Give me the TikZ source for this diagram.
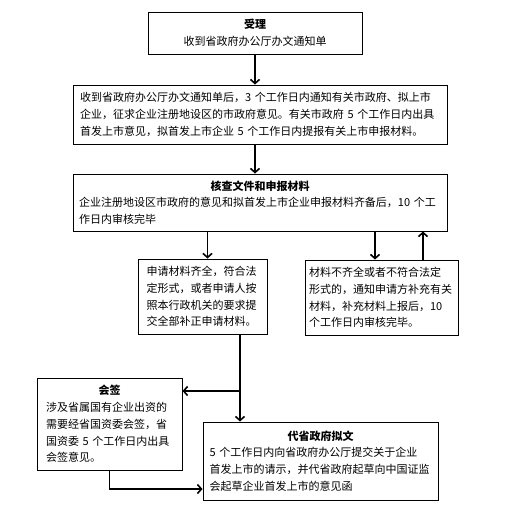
\documentclass[tikz,border=0pt]{standalone}
\usepackage{fontspec}
\usepackage{tikz}
\usetikzlibrary{arrows.meta}
\newfontfamily\cjk{Noto Sans CJK SC}
\newcommand{\boxtitle}[1]{\makebox[\hsize]{\bfseries #1}}
\tikzset{
  stepbox/.style={draw,line width=1pt,inner ysep=0pt,align=left,
    font=\cjk\fontsize{11}{16.8}\selectfont},
}

\begin{document}
\begin{tikzpicture}[x=1pt,y=-1pt,line width=1.6pt,-{Straight Barb[length=4pt,width=9pt]}]
\useasboundingbox (0,0) rectangle (506,517);

\node[stepbox,align=center,minimum width=214pt,minimum height=42pt] (shouli) at (255,33) {{\bfseries 受理}\\收到省政府办公厅办文通知单};
\node[stepbox,text width=360pt,minimum width=374pt,minimum height=59pt] (tongzhi) at (260,114.5) {收到省政府办公厅办文通知单后，3~个工作日内通知有关市政府、拟上市\\企业，征求企业注册地设区的市政府意见。有关市政府~5~个工作日内出具\\首发上市意见，拟首发上市企业~5~个工作日内提报有关上市申报材料。};
\node[stepbox,text width=362pt,minimum width=374pt,minimum height=57pt] (hecha) at (260,202.5) {\boxtitle{核查文件和申报材料}\\企业注册地设区市政府的意见和拟首发上市企业申报材料齐备后，10~个工\\作日内审核完毕};
\node[stepbox,text width=112pt,minimum width=129pt,minimum height=75pt] (qiquan) at (202.5,296.5) {申请材料齐全，符合法\\定形式，或者申请人按\\照本行政机关的要求提\\交全部补正申请材料。};
\node[stepbox,text width=145pt,minimum width=153pt,minimum height=75pt] (buqi) at (381.5,297.5) {材料不齐全或者不符合法定\\形式的，通知申请方补充有关\\材料，补充材料上报后，10\\个工作日内审核完毕。};
\node[stepbox,text width=127pt,minimum width=145pt,minimum height=92pt] (huiqian) at (109.5,424) {\boxtitle{会签}\\涉及省属国有企业出资的\\需要经省国资委会签，省\\国资委~5~个工作日内出具\\会签意见。};
\node[stepbox,text width=222pt,minimum width=235pt,minimum height=78pt] (niwen) at (320.5,461) {\boxtitle{代省政府拟文}\\5~个工作日内向省政府办公厅提交关于企业\\首发上市的请示，并代省政府起草向中国证监\\会起草企业首发上市的意见函};

\coordinate (fork) at (240,391);

\draw (shouli.south) -- (tongzhi.north -| shouli.south);
\draw (tongzhi.south -| shouli.south) -- (hecha.north -| shouli.south);
\draw ([xshift=5pt]qiquan.north |- hecha.south) -- ([xshift=5pt]qiquan.north);
\draw ([xshift=-6.5pt]buqi.north |- hecha.south) -- ([xshift=-6.5pt]buqi.north);
\draw ([xshift=41.5pt]buqi.north) -- ([xshift=41.5pt]buqi.north |- hecha.south);
\draw ([xshift=37.5pt]qiquan.south) -- (fork |- niwen.north);
\draw (fork) -- (fork -| huiqian.east);
\draw (huiqian.south) |- ([yshift=-28pt]niwen.west);

\end{tikzpicture}
\end{document}
